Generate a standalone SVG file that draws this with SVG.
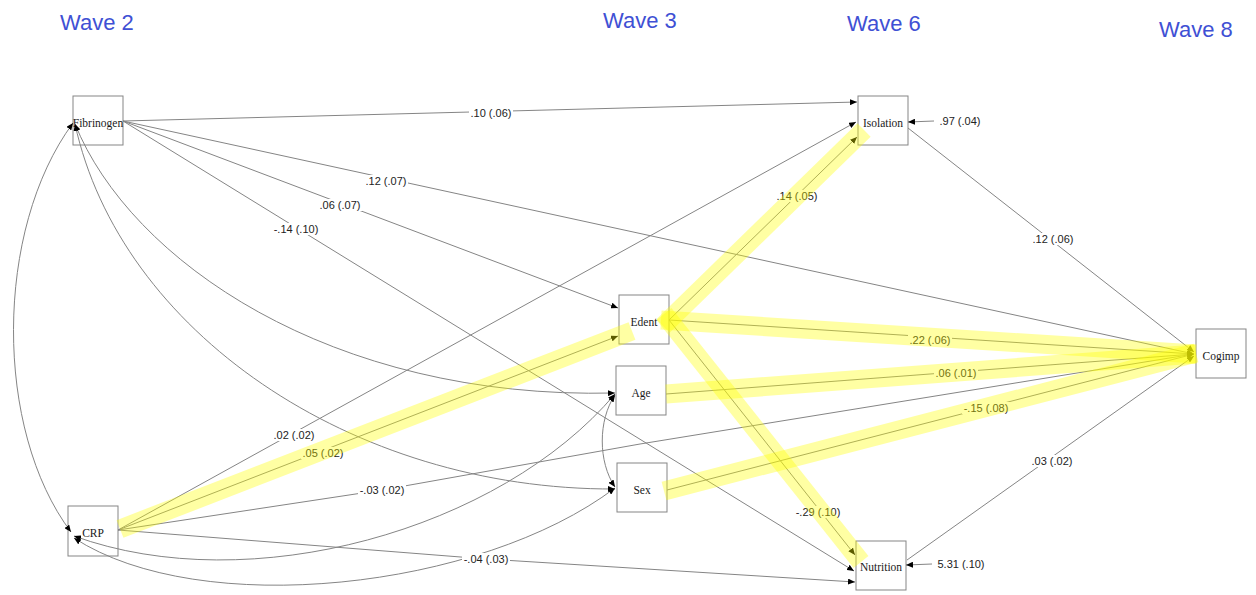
<svg xmlns="http://www.w3.org/2000/svg" width="1256" height="595" viewBox="0 0 1256 595">
  <style>
    .box { fill: #ffffff; stroke: #858585; stroke-width: 1; }
    .nlab { font-family: "Liberation Serif", "Times New Roman", serif; font-size: 11.5px; fill: #1a1a1a; text-anchor: middle; }
    .edge { fill: none; stroke: #858585; stroke-width: 1; stroke-linejoin: round; }
    .dir { marker-end: url(#arrow); }
    .cov { marker-start: url(#arrowS); marker-end: url(#arrow); }
    .elab { font-family: "Liberation Sans", Arial, sans-serif; font-size: 11px; fill: #222222; text-anchor: middle; }
    .lbg { fill: #ffffff; }
    .band { stroke: #ffff00; stroke-opacity: 0.36; stroke-width: 19; stroke-linecap: butt; fill: none; }
    .wave { font-family: "Liberation Sans", Arial, sans-serif; font-size: 22px; fill: #4050d4; }
  </style>
  <defs>
    <marker id="arrow" viewBox="0 0 7 6" refX="7" refY="3" markerWidth="7" markerHeight="6" markerUnits="userSpaceOnUse" orient="auto">
      <path d="M0,0 L7,3 L0,6 z" fill="#000000"/>
    </marker>
    <marker id="arrowS" viewBox="0 0 7 6" refX="7" refY="3" markerWidth="7" markerHeight="6" markerUnits="userSpaceOnUse" orient="auto-start-reverse">
      <path d="M0,0 L7,3 L0,6 z" fill="#000000"/>
    </marker>
  </defs>

  <rect width="1256" height="595" fill="#ffffff"/>

  <!-- wave headings -->
  <g id="waves">
    <text class="wave" x="60" y="30">Wave 2</text>
    <text class="wave" x="603" y="28">Wave 3</text>
    <text class="wave" x="847" y="31">Wave 6</text>
    <text class="wave" x="1159" y="37">Wave 8</text>
  </g>

  <!-- variables -->
  <g id="node-fibrinogen"><rect class="box" x="73" y="96" width="50" height="49"/><text class="nlab" x="98" y="127">Fibrinogen</text></g>
  <g id="node-crp"><rect class="box" x="68" y="506" width="50" height="50"/><text class="nlab" x="93" y="537">CRP</text></g>
  <g id="node-edent"><rect class="box" x="619" y="295" width="50" height="49"/><text class="nlab" x="644" y="326">Edent</text></g>
  <g id="node-age"><rect class="box" x="616" y="366" width="50" height="49"/><text class="nlab" x="641" y="397">Age</text></g>
  <g id="node-sex"><rect class="box" x="617" y="463" width="50" height="49"/><text class="nlab" x="642" y="494">Sex</text></g>
  <g id="node-isolation"><rect class="box" x="858" y="96" width="50" height="49"/><text class="nlab" x="883" y="127">Isolation</text></g>
  <g id="node-nutrition"><rect class="box" x="856" y="541" width="50" height="49"/><text class="nlab" x="881" y="571">Nutrition</text></g>
  <g id="node-cogimp"><rect class="box" x="1196" y="329" width="50" height="49"/><text class="nlab" x="1221" y="360">Cogimp</text></g>

  <!-- paths and covariances -->
  <g id="connectors">
    <path class="edge dir" d="M123,121 L857,102"/>
    <path class="edge dir" d="M123,121 L1194,354"/>
    <path class="edge dir" d="M123,121 L618,308"/>
    <path class="edge dir" d="M123,121 L854,571"/>
    <path class="edge cov" d="M75,124 C130,260 330,400 615,393"/>
    <path class="edge cov" d="M75,124 C120,330 350,490 615,489"/>
    <path class="edge cov" d="M73,123 C-6,230 -6,430 71,532"/>
    <path class="edge dir" d="M118,530 L856,122"/>
    <path class="edge dir" d="M118,530 L618,336"/>
    <path class="edge dir" d="M118,530 L382,490 L640,444 L1194,354"/>
    <path class="edge dir" d="M118,530 L486,559 L855,582"/>
    <path class="edge cov" d="M74,536 C250,600 500,530 615,394"/>
    <path class="edge cov" d="M74,538 C200,620 480,590 615,488"/>
    <path class="edge cov" d="M615,395 C598,420 598,462 615,487"/>
    <path class="edge dir" d="M669,320 L857,137"/>
    <path class="edge dir" d="M669,320 L1194,354"/>
    <path class="edge dir" d="M669,320 L855,555"/>
    <path class="edge dir" d="M666,394 L1194,354"/>
    <path class="edge dir" d="M667,490 L1194,354"/>
    <path class="edge dir" d="M908,128 L1194,352"/>
    <path class="edge dir" d="M907,560 L1194,356"/>
    <path class="edge dir" d="M934,121 L908,122"/>
    <path class="edge dir" d="M932,564 L906,565"/>
  </g>

  <!-- estimates (standard errors) -->
  <g id="edge-labels">
    <rect class="lbg" x="469" y="107" width="44" height="12"/><text class="elab" x="491" y="117">.10 (.06)</text>
    <rect class="lbg" x="364" y="175" width="44" height="12"/><text class="elab" x="386" y="185">.12 (.07)</text>
    <rect class="lbg" x="318" y="199" width="44" height="12"/><text class="elab" x="340" y="209">.06 (.07)</text>
    <rect class="lbg" x="272" y="223" width="48" height="12"/><text class="elab" x="296" y="233">-.14 (.10)</text>
    <rect class="lbg" x="272" y="429" width="44" height="12"/><text class="elab" x="294" y="439">.02 (.02)</text>
    <rect class="lbg" x="301" y="447" width="44" height="12"/><text class="elab" x="323" y="457">.05 (.02)</text>
    <rect class="lbg" x="358" y="484" width="48" height="12"/><text class="elab" x="382" y="494">-.03 (.02)</text>
    <rect class="lbg" x="462" y="553" width="48" height="12"/><text class="elab" x="486" y="563">-.04 (.03)</text>
    <rect class="lbg" x="775" y="190" width="44" height="12"/><text class="elab" x="797" y="200">.14 (.05)</text>
    <rect class="lbg" x="908" y="334" width="44" height="12"/><text class="elab" x="930" y="344">.22 (.06)</text>
    <rect class="lbg" x="934" y="367" width="44" height="12"/><text class="elab" x="956" y="377">.06 (.01)</text>
    <rect class="lbg" x="962" y="402" width="48" height="12"/><text class="elab" x="986" y="412">-.15 (.08)</text>
    <rect class="lbg" x="794" y="506" width="48" height="12"/><text class="elab" x="818" y="516">-.29 (.10)</text>
    <rect class="lbg" x="1031" y="233" width="44" height="12"/><text class="elab" x="1053" y="243">.12 (.06)</text>
    <rect class="lbg" x="1030" y="455" width="44" height="12"/><text class="elab" x="1052" y="465">.03 (.02)</text>
    <text class="elab" x="960" y="125">.97 (.04)</text>
    <text class="elab" x="961" y="568">5.31 (.10)</text>
  </g>

  <!-- highlighted pathways -->
  <g id="highlight">
    <line class="band" x1="120" y1="529" x2="632" y2="331"/>
    <line class="band" x1="663" y1="326" x2="864" y2="130"/>
    <line class="band" x1="664" y1="314" x2="861" y2="562"/>
    <line class="band" x1="661" y1="320" x2="1196" y2="354"/>
    <line class="band" x1="666" y1="394" x2="1196" y2="354"/>
    <line class="band" x1="664" y1="491" x2="1196" y2="353"/>
  </g>
</svg>
